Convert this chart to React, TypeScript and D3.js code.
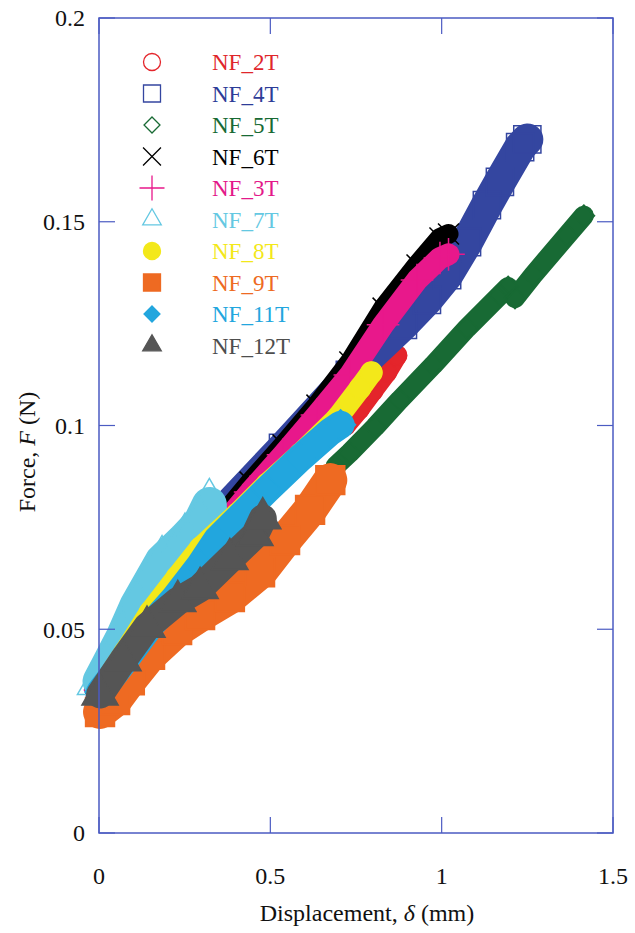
import React from "react";
import * as d3 from "d3";

type Pt = [number, number];

const xTickValues = [0, 0.5, 1, 1.5];
const xTickLabels = ["0", "0.5", "1", "1.5"];
const yTickValues = [0, 0.05, 0.1, 0.15, 0.2];
const yTickLabels = ["0", "0.05", "0.1", "0.15", "0.2"];

const seriesNames = ["NF_2T", "NF_4T", "NF_5T", "NF_6T", "NF_3T", "NF_7T", "NF_8T", "NF_9T", "NF_11T", "NF_12T"];

// displacement (mm), force (N)
const nf2T: Pt[] = [
  [0.003, 0.0351], [0.149, 0.0523], [0.295, 0.0675], [0.441, 0.0817], [0.587, 0.0935],
  [0.72, 0.1], [0.76, 0.104], [0.8, 0.1085], [0.84, 0.113], [0.87, 0.1172],
];
const nf4T: Pt[] = [
  [0.003, 0.0356], [0.149, 0.0542], [0.344, 0.0773], [0.537, 0.0945], [0.732, 0.1124],
  [0.887, 0.1247], [0.957, 0.1308], [1.016, 0.1369], [1.074, 0.145], [1.132, 0.1541],
  [1.17, 0.1598], [1.229, 0.1683], [1.25, 0.1702],
];
const nf5T: Pt[] = [
  [0.69, 0.09], [0.732, 0.0933], [0.805, 0.0996], [0.878, 0.1063], [0.975, 0.1148],
  [1.074, 0.1239], [1.17, 0.132], [1.194, 0.134], [1.214, 0.1313], [1.267, 0.1369],
  [1.366, 0.1467], [1.415, 0.1515],
];
const nf6T: Pt[] = [
  [0.003, 0.0356], [0.076, 0.0454], [0.149, 0.0547], [0.245, 0.0645], [0.344, 0.0763],
  [0.441, 0.0861], [0.537, 0.0952], [0.636, 0.105], [0.732, 0.1156], [0.829, 0.1288],
  [0.928, 0.1394], [0.995, 0.146], [1.02, 0.147],
];
const nf3T: Pt[] = [
  [0.003, 0.0351], [0.149, 0.0528], [0.245, 0.0621], [0.344, 0.0739], [0.441, 0.0837],
  [0.537, 0.0928], [0.636, 0.1026], [0.732, 0.1124], [0.829, 0.1247], [0.928, 0.1357],
  [0.995, 0.1411], [1.02, 0.142],
];
const nf7T: Pt[] = [
  [0.003, 0.0372], [0.023, 0.0404], [0.07, 0.048], [0.111, 0.0558], [0.184, 0.0666],
  [0.251, 0.0721], [0.295, 0.076], [0.322, 0.0806],
];
const nf8T: Pt[] = [
  [0.003, 0.0351], [0.076, 0.0444], [0.149, 0.0542], [0.228, 0.0628], [0.295, 0.0699],
  [0.403, 0.0783], [0.49, 0.0856], [0.587, 0.093], [0.695, 0.1018], [0.762, 0.1092],
  [0.795, 0.113],
];
const nf9T: Pt[] = [
  [0.003, 0.0297], [0.047, 0.0326], [0.09, 0.0375], [0.149, 0.0437], [0.228, 0.0498],
  [0.295, 0.0535], [0.382, 0.0579], [0.47, 0.064], [0.543, 0.0719], [0.616, 0.0793],
  [0.675, 0.0866],
];
const nf11T: Pt[] = [
  [0.003, 0.0346], [0.076, 0.0425], [0.149, 0.0508], [0.222, 0.0577], [0.295, 0.0657],
  [0.344, 0.0719], [0.49, 0.0842], [0.587, 0.092], [0.674, 0.0984], [0.705, 0.1002],
];
const nf12T: Pt[] = [
  [0.003, 0.034], [0.07, 0.0424], [0.14, 0.0506], [0.23, 0.0569], [0.295, 0.0601],
  [0.382, 0.0672], [0.455, 0.0731], [0.478, 0.0772],
];

const seriesData: Pt[][] = [nf2T, nf4T, nf5T, nf6T, nf3T, nf7T, nf8T, nf9T, nf11T, nf12T];

// styles
const colors = ["#e4252b", "#3446a0", "#186a34", "#000000", "#e8188b", "#64c8e2", "#f3e81a", "#ee6a22", "#22a6de", "#555555"];
const textColors = ["#e0262b", "#2d3c98", "#186a34", "#000000", "#e3198a", "#64c8e2", "#f3e81a", "#ee6a22", "#22a6de", "#4d4d4d"];
const bandWidths = [20, 32, 20, 20, 22, 35, 22, 34, 28, 28];
const filled = [false, false, false, false, false, false, true, true, true, true];

const sym: any = d3 as any;
const symbolTypes = [
  d3.symbolCircle,
  d3.symbolSquare,
  sym.symbolDiamond2 || d3.symbolDiamond,
  sym.symbolTimes || d3.symbolCross,
  sym.symbolPlus || d3.symbolCross,
  d3.symbolTriangle,
  d3.symbolCircle,
  d3.symbolSquare,
  sym.symbolDiamond2 || d3.symbolDiamond,
  d3.symbolTriangle,
];
const legendSizes = [227, 289, 162, 211, 206, 150, 227, 289, 162, 150];

const W = 635;
const H = 933;
const PL = 99, PR = 613, PT = 18, PB = 833;
const FONT = "'Liberation Serif', 'Times New Roman', serif";
const AXIS = "#4b5bc2";
const TICK = 16;

export default function App() {
  const x = d3.scaleLinear().domain([0, 1.5]).range([PL, PR]);
  const y = d3.scaleLinear().domain([0, 0.2]).range([PB, PT]);
  const line = d3.line<Pt>().x((d) => x(d[0])).y((d) => y(d[1]));

  const bandSymbolSize = (i: number) => {
    const w = bandWidths[i] * 0.85;
    return w * w;
  };

  return (
    <svg width={W} height={H} style={{ position: "absolute", left: 0, top: 0, background: "#fff" }} fontFamily={FONT}>
      <rect x={0} y={0} width={W} height={H} fill="#fff" />
      {/* data */}
      <g>
        {seriesData.map((data, i) => (
          <g key={seriesNames[i]}>
            <path
              d={line(data) || ""}
              fill="none"
              stroke={colors[i]}
              strokeWidth={bandWidths[i]}
              strokeLinejoin="round"
              strokeLinecap="round"
            />
            {data.map((d, j) => (
              <path
                key={j}
                transform={`translate(${x(d[0])},${y(d[1])})`}
                d={d3.symbol().type(symbolTypes[i]).size(bandSymbolSize(i))() || ""}
                fill={filled[i] ? colors[i] : "none"}
                stroke={colors[i]}
                strokeWidth={1.5}
              />
            ))}
          </g>
        ))}
      </g>
      {/* frame */}
      <rect x={PL} y={PT} width={PR - PL} height={PB - PT} fill="none" stroke={AXIS} strokeWidth={1.5} />
      {/* ticks */}
      {xTickValues.map((v) => (
        <g key={"xt" + v}>
          <line x1={x(v)} x2={x(v)} y1={PB} y2={PB - TICK} stroke={AXIS} strokeWidth={1.2} />
          <line x1={x(v)} x2={x(v)} y1={PT} y2={PT + TICK} stroke={AXIS} strokeWidth={1.2} />
        </g>
      ))}
      {yTickValues.map((v) => (
        <g key={"yt" + v}>
          <line x1={PL} x2={PL + TICK} y1={y(v)} y2={y(v)} stroke={AXIS} strokeWidth={1.2} />
          <line x1={PR} x2={PR - TICK} y1={y(v)} y2={y(v)} stroke={AXIS} strokeWidth={1.2} />
        </g>
      ))}
      {/* tick labels */}
      {xTickValues.map((v, i) => (
        <text key={"xl" + v} x={x(v)} y={876} textAnchor="middle" dy="0.35em" fontSize={24} fill="#111">
          {xTickLabels[i]}
        </text>
      ))}
      {yTickValues.map((v, i) => (
        <text key={"yl" + v} x={85} y={y(v)} textAnchor="end" dy="0.35em" fontSize={24} fill="#111">
          {yTickLabels[i]}
        </text>
      ))}
      {/* axis titles */}
      <text x={367} y={913} textAnchor="middle" dy="0.35em" fontSize={24} fill="#111">
        Displacement, <tspan fontStyle="italic">δ</tspan> (mm)
      </text>
      <text
        transform={`translate(27,452) rotate(-90)`}
        textAnchor="middle"
        dy="0.35em"
        fontSize={24}
        fill="#111"
      >
        Force, <tspan fontStyle="italic">F</tspan> (N)
      </text>
      {/* legend */}
      {seriesNames.map((name, i) => {
        const ly = 62 + i * 31.5;
        return (
          <g key={"lg" + name}>
            <path
              transform={`translate(152,${ly})`}
              d={d3.symbol().type(symbolTypes[i]).size(legendSizes[i])() || ""}
              fill={filled[i] ? colors[i] : "none"}
              stroke={colors[i]}
              strokeWidth={1.3}
            />
            <text x={212} y={ly} dy="0.35em" fontSize={23} fill={textColors[i]}>
              {name}
            </text>
          </g>
        );
      })}
    </svg>
  );
}
